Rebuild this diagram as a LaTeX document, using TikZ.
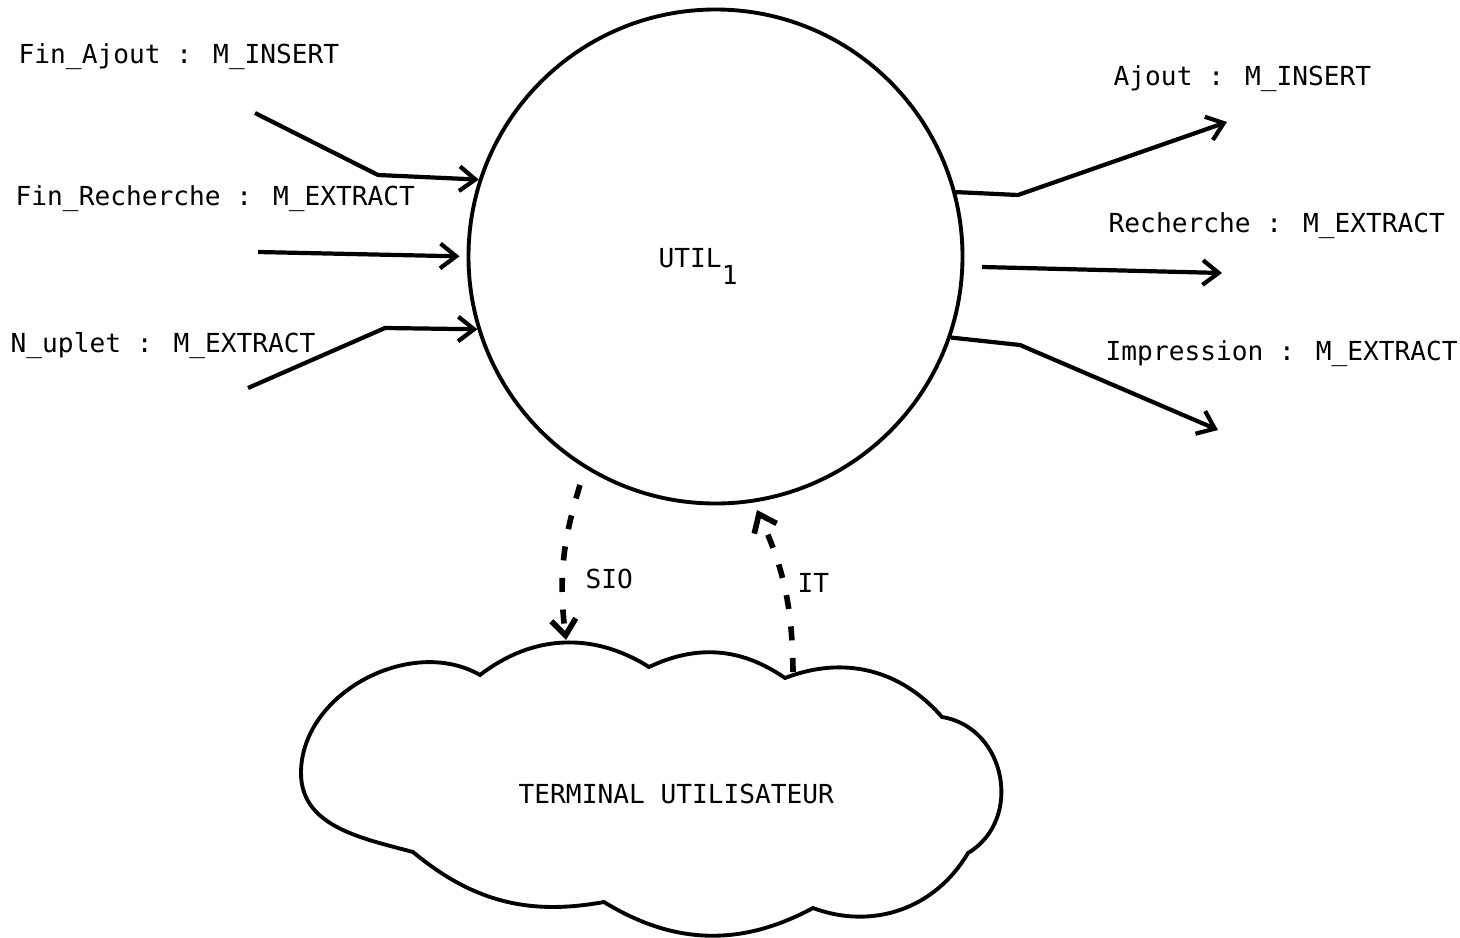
\documentclass[tikz,border=0pt]{standalone}
\usepackage{fontspec}
\setmainfont{DejaVu Sans Mono}
\usetikzlibrary{arrows.meta}

\tikzstyle{msg} = [anchor=base west, inner sep=0pt, font=\fontsize{7.45}{9}\selectfont]
\tikzstyle{flow} = [draw, line width=1.2pt, -{Straight Barb[length=4.5pt,width=7pt]}]
\tikzstyle{signal} = [flow, line width=1.6pt, dash pattern=on 4pt off 5pt]
\tikzstyle{process} = [circle, draw, line width=1.1pt, minimum size=4.94cm, inner sep=0pt]

\begin{document}
\begin{tikzpicture}
    \useasboundingbox (0,0) rectangle (14.6,-9.38);

    % The process
    \node[process] (util) at (7.155,-2.565) {};
    \node[msg] (utilname) at (6.58,-2.67) {UTIL\raisebox{-0.17cm}{1}};

    % The message names
    \foreach \pos/\name/\txt in {{(0.18,-0.63)/finajout/Fin\_Ajout : M\_INSERT},
        {(0.15,-2.05)/finrech/Fin\_Recherche : M\_EXTRACT},
        {(0.10,-3.52)/nuplet/N\_uplet : M\_EXTRACT},
        {(11.13,-0.85)/ajout/Ajout : M\_INSERT},
        {(11.08,-2.32)/rech/Recherche : M\_EXTRACT},
        {(11.05,-3.60)/impr/Impression : M\_EXTRACT}} {
      \node[msg] (\name) at \pos {\txt};
    }

    % The free ends and bends of the messages
    \foreach \pos/\name in {{(2.55,-1.13)/in1}, {(3.78,-1.75)/in1b}, {(2.58,-2.52)/in2},
        {(2.48,-3.88)/in3}, {(3.85,-3.28)/in3b},
        {(10.18,-1.95)/out1b}, {(12.27,-1.22)/out1}, {(9.82,-2.67)/out2s},
        {(12.22,-2.73)/out2}, {(10.20,-3.45)/out3b}, {(12.18,-4.30)/out3}} {
      \node[coordinate] (\name) at \pos {};
    }

    % Incoming and outgoing messages
    \draw[flow] (in1) -- (in1b) -- (util.162);
    \draw[flow, shorten >=2pt] (in2) -- (util.180);
    \draw[flow] (in3) -- (in3b) -- (util.197);
    \draw[flow] (util.15) -- (out1b) -- (out1);
    \draw[flow] (out2s) -- (out2);
    \draw[flow] (util.-19) -- (out3b) -- (out3);

    % The terminal
    \draw[line width=1.1pt] (4.80,-6.75) coordinate (c1)
        to[bend left=35] (6.49,-6.67) coordinate (c2)
        to[bend left=30] (7.85,-6.78) coordinate (c3)
        to[bend left=35] (9.42,-7.17) coordinate (c4)
        to[bend left=70, looseness=1.2] (9.68,-8.53) coordinate (c5)
        to[bend left=40] (8.13,-9.08) coordinate (c6)
        to[bend left=30] (6.04,-9.02) coordinate (c7)
        to[bend left=25] (4.13,-8.52) coordinate (c8)
        to[out=165,in=270] (3.01,-7.73)
        to[out=90,in=150] cycle;
    \node[msg] (terminal) at (5.18,-8.03) {TERMINAL UTILISATEUR};

    % Exchanges with the terminal
    \coordinate (siostart) at (5.80,-4.85);
    \coordinate (sioend) at (5.66,-6.40);
    \coordinate (itstart) at (7.93,-6.72);
    \coordinate (itend) at (7.57,-5.10);
    \draw[signal] (siostart) to[bend right=12] (sioend);
    \draw[signal] (itstart) to[bend right=12] (itend);
    \node[msg] (sio) at (5.85,-5.88) {SIO};
    \node[msg] (it) at (7.97,-5.92) {IT};
\end{tikzpicture}
\end{document}
